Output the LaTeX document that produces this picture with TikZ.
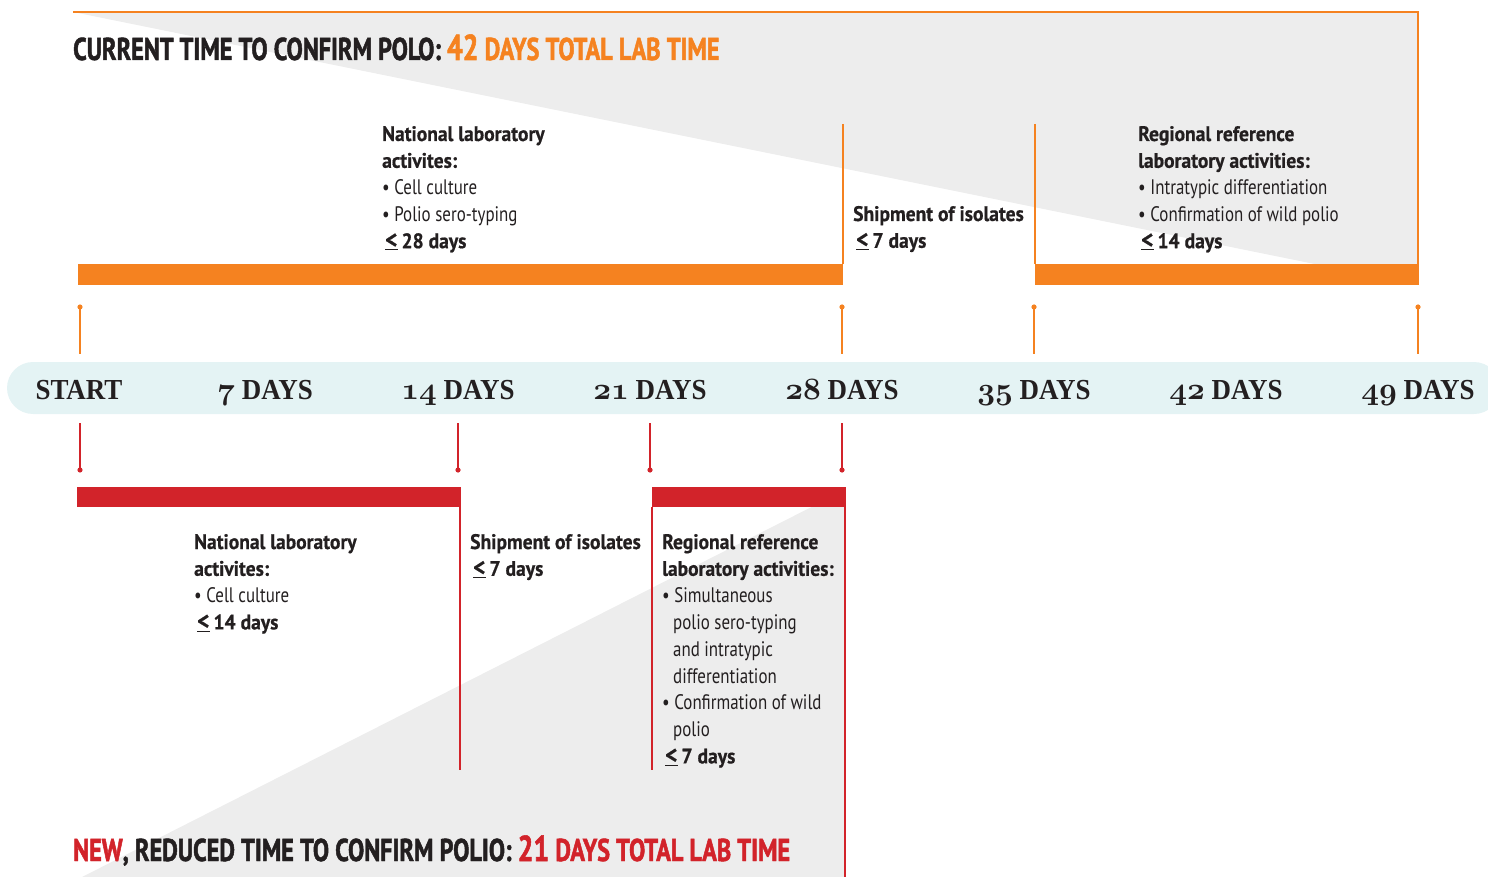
\documentclass[tikz,border=0pt]{standalone}
\usepackage{fontspec}
\usepackage{graphicx}
\newfontfamily\cond{PT Sans}[FakeStretch=0.805]
\newfontfamily\condb{PT Sans}[FakeStretch=0.93,BoldFeatures={FakeBold=0.6}]
\newfontfamily\ttlf{PT Sans}[FakeStretch=0.77,BoldFeatures={FakeBold=1.5}]
\newfontfamily\tlf{Liberation Serif}[FakeStretch=0.93]
\definecolor{orng}{HTML}{F58220}
\definecolor{rd}{HTML}{D2232A}
\definecolor{gry}{HTML}{EDEDED}
\definecolor{cyn}{HTML}{E4F3F4}
\definecolor{ink}{HTML}{231F20}
\newcommand\osn[1]{\scalebox{3.1}{\fontsize{10}{10}\usefont{OML}{cmm}{b}{it}#1}}
\newcommand\blk[1]{\begin{tabular}[t]{@{}l@{}}#1\end{tabular}}
\newcommand\B[1]{{\condb\bfseries #1}}
\newcommand\leqsym{\hspace*{3pt}\underline{\scalebox{1.2}{<}}\hspace{4pt}}
\tikzset{
  txt/.style={anchor=base west,inner sep=0pt,text=ink,font=\cond\fontsize{21}{26.8}\selectfont},
  ttl/.style={anchor=base west,inner sep=0pt,text=ink,font=\ttlf\bfseries\fontsize{31.5}{31.5}\selectfont},
  tl/.style={anchor=base,inner sep=0pt,text=ink,font=\tlf\bfseries\fontsize{29}{29}\selectfont},
  oline/.style={orng,line width=1.6pt},
  rline/.style={rd,line width=1.6pt},
}
\begin{document}
\begin{tikzpicture}[x=1pt,y=-1pt]
\useasboundingbox (0,0) rectangle (1488,877);
% grey triangles
\fill[gry] (73,12) -- (1418,12) -- (1418,285) -- cycle;
\fill[gry] (845,490) -- (845,877) -- (82,877) -- cycle;
% top frame
\draw[oline] (73,12) -- (1418,12) -- (1418,285);
% orange bars and dividers
\fill[orng] (78,264) rectangle (843,285);
\fill[orng] (1035,264) rectangle (1419,285);
\draw[oline] (843,124) -- (843,264);
\draw[oline] (1035,124) -- (1035,264);
% timeline band
\fill[cyn,rounded corners=26pt] (7,362) rectangle (1500,414);
% stems
\foreach \x in {80,842,1034,1418}{
  \draw[oline] (\x,307) -- (\x,354);
  \fill[orng] (\x,307) circle (2.6);
}
\foreach \x in {80,458,650,842}{
  \draw[rline] (\x,423) -- (\x,470);
  \fill[rd] (\x,470) circle (2.6);
}
% red bars and dividers
\fill[rd] (77,487) rectangle (461,507);
\fill[rd] (652,487) rectangle (846,507);
\draw[rline] (460,507) -- (460,770);
\draw[rline] (652,507) -- (652,770);
\draw[rline] (845,507) -- (845,877);
% titles
\node[ttl] (t1) at (73,60) {CURRENT TIME TO CONFIRM POLO: \textcolor{orng}{{\fontsize{36}{36}\selectfont 42} DAYS TOTAL LAB TIME}};
\node[ttl] (t2) at (73,861) {\textcolor{rd}{NEW}, REDUCED TIME TO CONFIRM POLIO: \textcolor{rd}{{\fontsize{36}{36}\selectfont 21} DAYS TOTAL LAB TIME}};
% timeline labels
\node[tl] (d0) at (79,399) {START};
\node[tl] (d7) at (265,399) {\osn{7} DAYS};
\node[tl] (d14) at (458,399) {\osn{14} DAYS};
\node[tl] (d21) at (650,399) {\osn{21} DAYS};
\node[tl] (d28) at (842,399) {\osn{28} DAYS};
\node[tl] (d35) at (1034,399) {\osn{35} DAYS};
\node[tl] (d42) at (1226,399) {\osn{42} DAYS};
\node[tl] (d49) at (1418,399) {\osn{49} DAYS};
% top texts
\node[txt] (n1) at (382,141) {\blk{\B{National laboratory}\\\B{activites:}\\• Cell culture\\• Polio sero-typing\\\B{\leqsym 28 days}}};
\node[txt] (s1) at (853,221) {\blk{\B{Shipment of isolates}\\\B{\leqsym 7 days}}};
\node[txt] (r1) at (1138,141) {\blk{\B{Regional reference}\\\B{laboratory activities:}\\• Intratypic differentiation\\• Confirmation of wild polio\\\B{\leqsym 14 days}}};
% bottom texts
\node[txt] (n2) at (194,549) {\blk{\B{National laboratory}\\\B{activites:}\\• Cell culture\\\B{\leqsym 14 days}}};
\node[txt] (s2) at (470,549) {\blk{\B{Shipment of isolates}\\\B{\leqsym 7 days}}};
\node[txt] (r2) at (662,549) {\blk{\B{Regional reference}\\\B{laboratory activities:}\\• Simultaneous\\\hspace*{11pt}polio sero-typing\\\hspace*{11pt}and intratypic\\\hspace*{11pt}differentiation\\• Confirmation of wild\\\hspace*{11pt}polio\\\B{\leqsym 7 days}}};
\end{tikzpicture}
\end{document}
